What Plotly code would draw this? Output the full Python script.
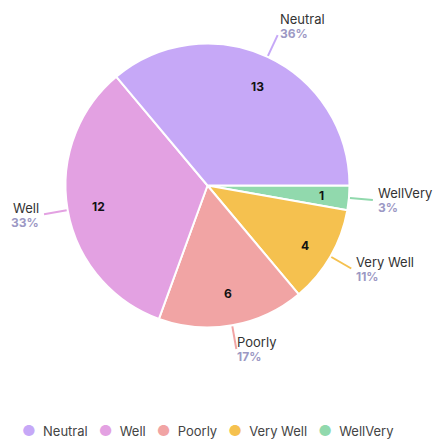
import math
import plotly.graph_objects as go

categories = ["Neutral", "Well", "Poorly", "Very Well", "WellVery"]
values = [13, 12, 6, 4, 1]
colors = ["#C6A8F7", "#E3A1E2", "#F1A4A4", "#F5C14F", "#91D9AD"]

W, H = 433, 439
CX, CY, R = 207.5, 185.5, 142
LEAD = 24
FONT = "Inter"
PCT_COLOR = "#9C98C4"

# Slices run counterclockwise from 3 o'clock in the original order;
# equivalently clockwise from 3 o'clock in reversed order.
fig = go.Figure(go.Pie(
    labels=categories[::-1], values=values[::-1], sort=False,
    direction="clockwise", rotation=90,
    marker=dict(colors=colors[::-1], line=dict(color="white", width=2)),
    textinfo="none", hoverinfo="label+value+percent", showlegend=False,
    domain=dict(x=[(CX - R) / W, (CX + R) / W], y=[1 - (CY + R) / H, 1 - (CY - R) / H]),
))

total = sum(values)
annotations = []
shapes = []
cum = 0
for cat, v, c in zip(categories, values, colors):
    mid = math.radians((cum + v / 2) / total * 360)
    cum += v
    cs, sn = math.cos(mid), math.sin(mid)
    rin = 0.84 * R
    annotations.append(dict(
        x=(CX + rin * cs) / W, y=1 - (CY - rin * sn) / H, xref="paper", yref="paper",
        text=f"<b>{v}</b>", showarrow=False, font=dict(family=FONT, size=12, color="#111"),
    ))
    x0, y0 = CX + (R + 1) * cs, CY - (R + 1) * sn
    x1, y1 = CX + (R + LEAD) * cs, CY - (R + LEAD) * sn
    shapes.append(dict(type="line", xref="paper", yref="paper",
                       x0=x0 / W, y0=1 - y0 / H, x1=x1 / W, y1=1 - y1 / H,
                       line=dict(color=c, width=2)))
    pct = round(v / total * 100)
    right = cs >= 0
    gap = -2 + 5 * abs(cs)
    ty = y1 + 1 - 10 * max(sn, 0)
    tx = (x1 + (gap if right else -gap)) / W
    anchor = "left" if right else "right"
    annotations.append(dict(
        x=tx, y=1 - (ty - 7.5) / H, xref="paper", yref="paper",
        xanchor=anchor, yanchor="middle", text=cat,
        showarrow=False, font=dict(family=FONT, size=13, color="#333333"),
    ))
    annotations.append(dict(
        x=tx, y=1 - (ty + 7) / H, xref="paper", yref="paper",
        xanchor=anchor, yanchor="middle", text=f"<b>{pct}%</b>",
        showarrow=False, font=dict(family=FONT, size=12, color=PCT_COLOR),
    ))

legend_text = "&nbsp;&nbsp;&nbsp;".join(
    f"<span style='color:{c};font-size:15px'>●</span>&nbsp;&nbsp;{cat}" for cat, c in zip(categories, colors)
)
annotations.append(dict(
    x=CX / W, y=1 - 430 / H, xref="paper", yref="paper", xanchor="center", yanchor="middle",
    text=legend_text, showarrow=False, font=dict(family=FONT, size=13, color="#444444"),
))

fig.update_layout(
    width=W, height=H, margin=dict(l=0, r=0, t=0, b=0),
    paper_bgcolor="white", plot_bgcolor="white",
    annotations=annotations, shapes=shapes,
)
fig.write_html("out.html", config={"displayModeBar": False},
               post_script="document.body.style.margin='0px';")
